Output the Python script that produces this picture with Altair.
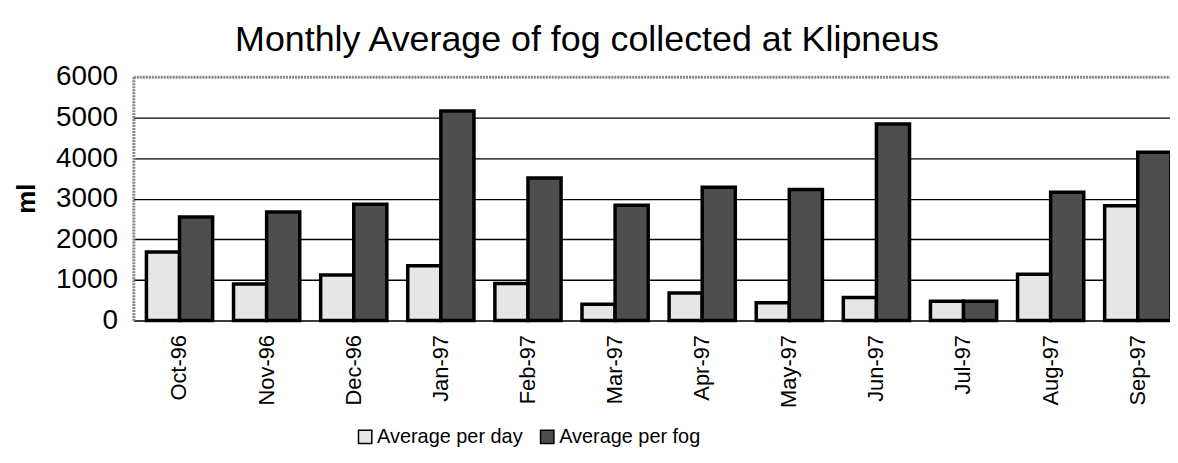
import altair as alt
import pandas as pd

months = ["Oct-96", "Nov-96", "Dec-96", "Jan-97", "Feb-97", "Mar-97",
          "Apr-97", "May-97", "Jun-97", "Jul-97", "Aug-97", "Sep-97"]
per_day = [1690, 900, 1120, 1350, 910, 400, 680, 440, 570, 475, 1140, 2825]
per_fog = [2550, 2670, 2860, 5160, 3510, 2840, 3280, 3225, 4840, 475, 3160, 4140]
series = ["Average per day", "Average per fog"]
y_ticks = [0, 1000, 2000, 3000, 4000, 5000, 6000]

rows = []
for m, d, f in zip(months, per_day, per_fog):
    rows.append({"month": m, "series": series[0], "value": d})
    rows.append({"month": m, "series": series[1], "value": f})
df = pd.DataFrame(rows)

FONT = "Liberation Sans"

chart = alt.Chart(df).mark_bar(stroke="black", strokeWidth=3.5).encode(
    x=alt.X("month:N", sort=months,
            scale=alt.Scale(paddingInner=0.24, paddingOuter=0.15),
            axis=alt.Axis(title=None, labelAngle=-90, labelFontSize=22,
                          labelFont=FONT, labelColor="black", labelPadding=14,
                          ticks=False, domain=False)),
    xOffset=alt.XOffset("series:N", sort=series, scale=alt.Scale(paddingInner=0, paddingOuter=0)),
    y=alt.Y("value:Q", scale=alt.Scale(domain=[0, 6000], nice=False),
            axis=alt.Axis(title="ml", values=y_ticks, format="d", labelFontSize=28,
                          labelFont=FONT, labelColor="black", labelPadding=16,
                          ticks=False, domain=True, domainColor="#8a8a8a",
                          domainWidth=3, domainDash=[2, 1],
                          gridColor=alt.condition("datum.value == 6000",
                                                  alt.value("#8a8a8a"), alt.value("black")),
                          gridWidth=alt.condition("datum.value == 6000",
                                                  alt.value(3), alt.value(1.4)),
                          gridDash=alt.condition("datum.value == 6000",
                                                 alt.value([2, 1]), alt.value([])),
                          titleFont=FONT, titleFontSize=26, titleFontWeight="bold",
                          titleColor="black", titleAngle=-90, titleX=-107, titleY=122,
                          titleAlign="center", titleBaseline="middle")),
    color=alt.Color("series:N", sort=series,
                    scale=alt.Scale(domain=series, range=["#e6e6e6", "#4e4e4e"]),
                    legend=alt.Legend(title=None, orient="none", direction="horizontal",
                                      legendX=223, legendY=352, symbolType="square",
                                      symbolSize=180, symbolStrokeColor="black",
                                      symbolStrokeWidth=1.5, labelFontSize=20,
                                      labelFont=FONT, labelColor="black", labelOffset=2,
                                      columnPadding=14)),
).properties(
    width=1056,
    height=245,
    title=alt.TitleParams("Monthly Average of fog collected at Klipneus",
                          font=FONT, fontSize=36, fontWeight="normal", color="black",
                          anchor="middle", dx=-72, offset=4),
    padding={"left": 126, "top": 68, "right": -14, "bottom": 134},
    autosize=alt.AutoSizeParams(type="none"),
).configure_view(
    stroke=None
).configure(background="white")

chart.save("out.html", embed_options={"renderer": "svg", "actions": False})
